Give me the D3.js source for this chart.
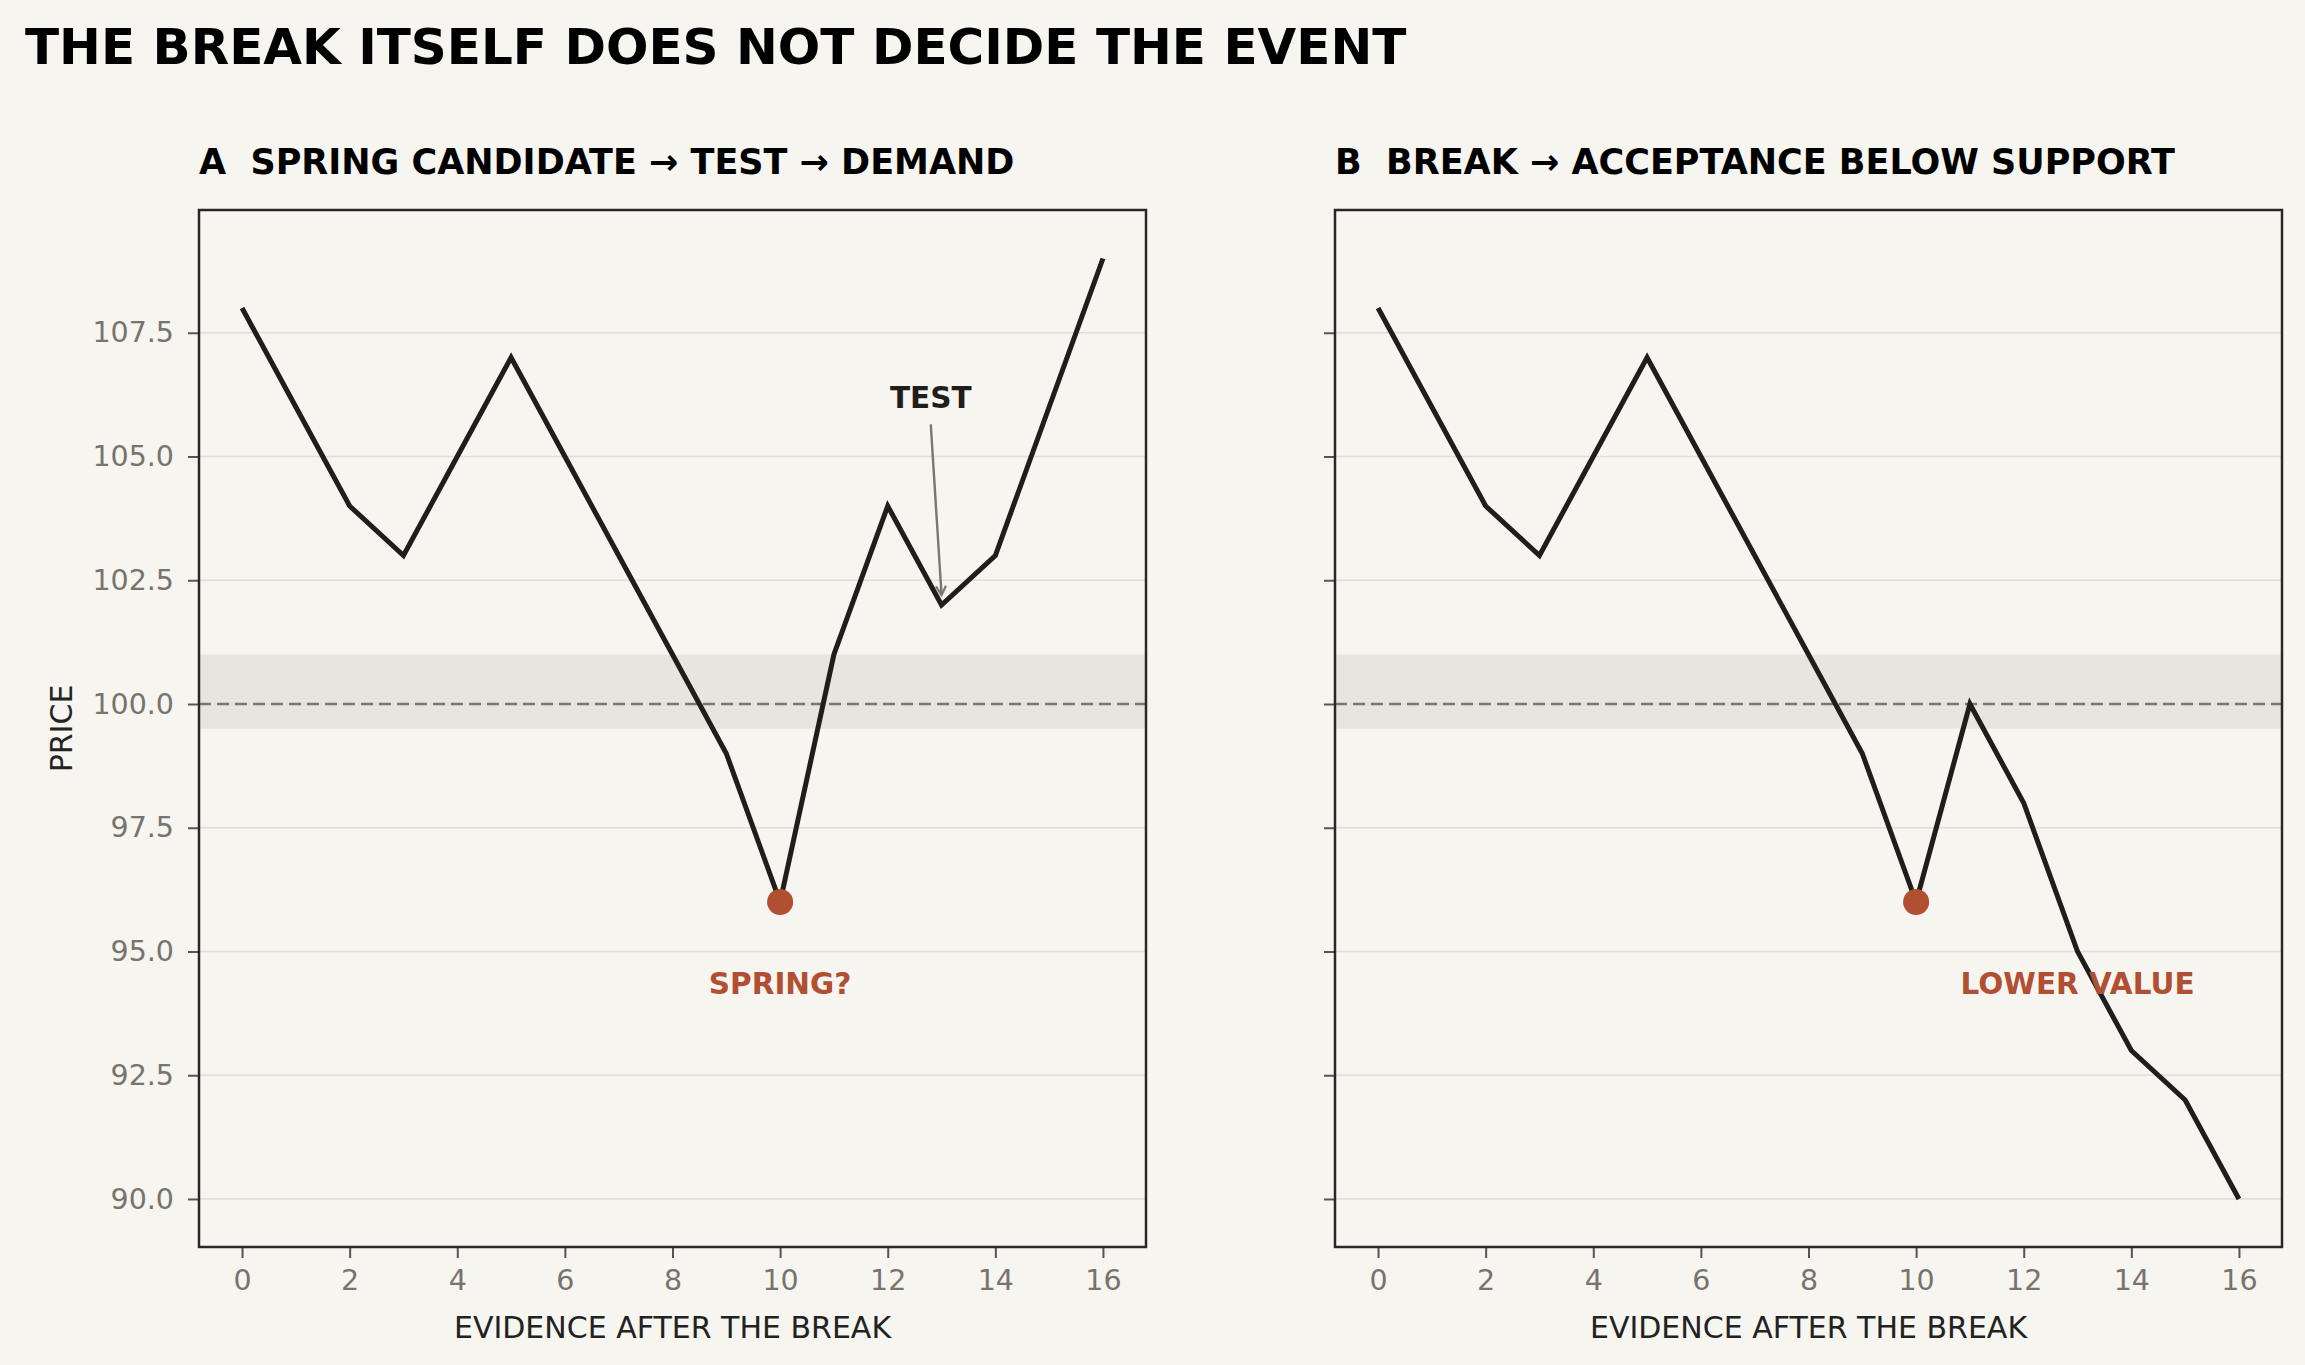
<!DOCTYPE html>
<html>
<head>
<meta charset="utf-8">
<script src="https://cdn.jsdelivr.net/npm/d3@7"></script>
<style>
  body { margin: 0; background: #f7f5f0; }
  text { font-family: "DejaVu Sans", sans-serif; white-space: pre; }
</style>
</head>
<body>
<svg id="chart"></svg>
<script>
// data
var steps = [0, 1, 2, 3, 4, 5, 6, 7, 8, 9, 10, 11, 12, 13, 14, 15, 16];
var springPrices = [108, 106, 104, 103, 105, 107, 105, 103, 101, 99, 96, 101, 104, 102, 103, 106, 109];
var breakPrices = [108, 106, 104, 103, 105, 107, 105, 103, 101, 99, 96, 100, 98, 95, 93, 92, 90];
var xTicks = [0, 2, 4, 6, 8, 10, 12, 14, 16];
var yTicks = [90, 92.5, 95, 97.5, 100, 102.5, 105, 107.5];
var panelTitles = ["A  SPRING CANDIDATE \u2192 TEST \u2192 DEMAND", "B  BREAK \u2192 ACCEPTANCE BELOW SUPPORT"];
var supportLevel = 100;
var supportZone = [99.5, 101];
var breakStep = 10;
var springLabel = {x: 10, y: 94.35, text: "SPRING?"};
var testLabel = {x: 12.8, y: 106.2, text: "TEST", arrowFrom: [12.8, 105.65], arrowTo: [13, 102.2]};
var lowerLabel = {x: 13, y: 94.35, text: "LOWER VALUE"};

var W = 2305, H = 1365;
var colors = {
    bg: "#f7f5f0",
    zone: "#e8e5de",
    grid: "#e0ddd6",
    line: "#1f1e1b",
    accent: "#b04f32",
    dash: "#7a7670",
    tick: "#77736d",
    spine: "#2a2825"
};

var svg = d3.select("#chart")
    .attr("width", W)
    .attr("height", H)
    .style("background", colors.bg);

svg.append("defs").append("marker")
    .attr("id", "arrowhead")
    .attr("viewBox", "-10 -6 12 12")
    .attr("refX", 0)
    .attr("refY", 0)
    .attr("markerWidth", 12)
    .attr("markerHeight", 12)
    .attr("markerUnits", "userSpaceOnUse")
    .attr("orient", "auto")
    .append("path")
    .attr("d", "M-9,-5 L0,0 L-9,5")
    .attr("fill", "none")
    .attr("stroke", colors.dash)
    .attr("stroke-width", 2.2);

// main title
svg.append("text")
    .attr("x", 25)
    .attr("y", 64)
    .attr("font-size", 50)
    .attr("font-weight", "bold")
    .attr("fill", "#000")
    .text("THE BREAK ITSELF DOES NOT DECIDE THE EVENT");

var plotTop = 210, plotBottom = 1247;
var panels = [
    {left: 199, right: 1146, prices: springPrices, title: panelTitles[0], yLabels: true},
    {left: 1335, right: 2282, prices: breakPrices, title: panelTitles[1], yLabels: false}
];

var y = d3.scaleLinear()
    .domain([89.03, 109.98])
    .range([plotBottom, plotTop]);

panels.forEach(function(p, idx) {
    var x = d3.scaleLinear()
        .domain([-0.8, 16.8])
        .range([p.left, p.right]);

    var g = svg.append("g");

    // support zone
    g.append("rect")
        .attr("x", p.left)
        .attr("y", y(supportZone[1]))
        .attr("width", p.right - p.left)
        .attr("height", y(supportZone[0]) - y(supportZone[1]))
        .attr("fill", colors.zone);

    // grid
    g.selectAll(".grid")
        .data(yTicks)
        .enter()
        .append("line")
        .attr("x1", p.left)
        .attr("x2", p.right)
        .attr("y1", d => y(d))
        .attr("y2", d => y(d))
        .attr("stroke", colors.grid)
        .attr("stroke-width", 1.5);

    // support line
    g.append("line")
        .attr("x1", p.left)
        .attr("x2", p.right)
        .attr("y1", y(supportLevel))
        .attr("y2", y(supportLevel))
        .attr("stroke", colors.dash)
        .attr("stroke-width", 2.4)
        .attr("stroke-dasharray", "12,6");

    // axes
    var yAxis = d3.axisLeft(y)
        .tickValues(yTicks)
        .tickSize(11)
        .tickPadding(14)
        .tickFormat(p.yLabels ? d3.format(".1f") : "");
    var ya = g.append("g")
        .attr("transform", `translate(${p.left}, 0)`)
        .call(yAxis);
    ya.select(".domain").remove();
    ya.selectAll(".tick line").attr("stroke", "#555").attr("stroke-width", 2);
    ya.selectAll(".tick text")
        .attr("fill", colors.tick)
        .attr("font-size", 28.5)
        .attr("font-family", "DejaVu Sans");

    var xAxis = d3.axisBottom(x)
        .tickValues(xTicks)
        .tickSize(11)
        .tickPadding(12)
        .tickFormat(d3.format("d"));
    var xa = g.append("g")
        .attr("transform", `translate(0, ${plotBottom})`)
        .call(xAxis);
    xa.select(".domain").remove();
    xa.selectAll(".tick line").attr("stroke", "#555").attr("stroke-width", 2);
    xa.selectAll(".tick text")
        .attr("fill", colors.tick)
        .attr("font-size", 28.5)
        .attr("font-family", "DejaVu Sans");

    // x label
    g.append("text")
        .attr("x", (p.left + p.right) / 2)
        .attr("y", 1338)
        .attr("text-anchor", "middle")
        .attr("font-size", 30)
        .attr("fill", "#222")
        .text("EVIDENCE AFTER THE BREAK");

    if (p.yLabels) {
        g.append("text")
            .attr("transform", `translate(72, ${(plotTop + plotBottom) / 2}) rotate(-90)`)
            .attr("text-anchor", "middle")
            .attr("font-size", 30)
            .attr("fill", "#222")
            .text("PRICE");
    }

    // panel title
    g.append("text")
        .attr("x", p.left)
        .attr("y", 174)
        .attr("font-size", 35)
        .attr("font-weight", "bold")
        .attr("fill", "#000")
        .text(p.title);

    // price line
    var line = d3.line()
        .x((d, i) => x(steps[i]))
        .y(d => y(d));
    g.append("path")
        .datum(p.prices)
        .attr("d", line)
        .attr("fill", "none")
        .attr("stroke", colors.line)
        .attr("stroke-width", 5)
        .attr("stroke-linejoin", "miter");

    // break low marker
    g.append("circle")
        .attr("cx", x(breakStep))
        .attr("cy", y(p.prices[breakStep]))
        .attr("r", 13)
        .attr("fill", colors.accent);

    if (idx === 0) {
        g.append("text")
            .attr("x", x(springLabel.x))
            .attr("y", y(springLabel.y))
            .attr("dy", "0.36em")
            .attr("text-anchor", "middle")
            .attr("font-size", 29.5)
            .attr("font-weight", "bold")
            .attr("fill", colors.accent)
            .text(springLabel.text);

        g.append("line")
            .attr("x1", x(testLabel.arrowFrom[0]))
            .attr("y1", y(testLabel.arrowFrom[1]))
            .attr("x2", x(testLabel.arrowTo[0]))
            .attr("y2", y(testLabel.arrowTo[1]))
            .attr("stroke", colors.dash)
            .attr("stroke-width", 2.4)
            .attr("marker-end", "url(#arrowhead)");

        g.append("text")
            .attr("x", x(testLabel.x))
            .attr("y", y(testLabel.y))
            .attr("dy", "0.36em")
            .attr("text-anchor", "middle")
            .attr("font-size", 29.5)
            .attr("font-weight", "bold")
            .attr("fill", colors.line)
            .text(testLabel.text);
    } else {
        g.append("text")
            .attr("x", x(lowerLabel.x))
            .attr("y", y(lowerLabel.y))
            .attr("dy", "0.36em")
            .attr("text-anchor", "middle")
            .attr("font-size", 29.5)
            .attr("font-weight", "bold")
            .attr("fill", colors.accent)
            .text(lowerLabel.text);
    }

    // frame
    g.append("rect")
        .attr("x", p.left)
        .attr("y", plotTop)
        .attr("width", p.right - p.left)
        .attr("height", plotBottom - plotTop)
        .attr("fill", "none")
        .attr("stroke", colors.spine)
        .attr("stroke-width", 2.5);
});
</script>
</body>
</html>
